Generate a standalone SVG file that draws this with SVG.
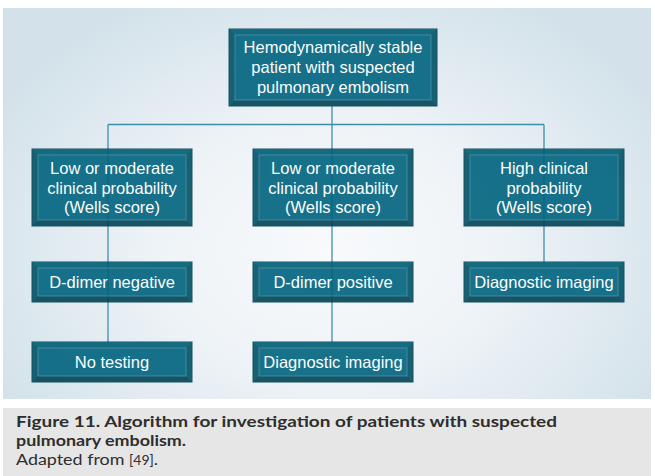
<svg xmlns="http://www.w3.org/2000/svg" width="655" height="476" viewBox="0 0 655 476">
<defs>
<radialGradient id="bg" cx="330" cy="250" r="380" gradientUnits="userSpaceOnUse" gradientTransform="translate(330 250) scale(1 0.75) translate(-330 -250)">
<stop offset="0" stop-color="#f8fafc"/>
<stop offset="0.45" stop-color="#eef3f7"/>
<stop offset="1" stop-color="#d3e2ea"/>
</radialGradient>
<style>
.node{opacity:0.9}
.o{fill:#005266;stroke:#00404e;stroke-width:1}
.bt{fill:#005d74}
.bb{fill:#004456}
.i{fill:#00637e;stroke:#3d8aa1;stroke-width:0.8}
.t{font-family:"Liberation Sans",Arial,sans-serif;font-size:16.5px;fill:#ffffff;text-anchor:middle}
.c{fill:none;stroke:#3f8ea8;stroke-width:1.3}
.cap{font-family:Lato,"Open Sans",sans-serif;fill:#2e2e2e}
</style>
</defs>
<rect x="0" y="0" width="655" height="476" fill="#ffffff"/>
<rect x="3" y="8" width="648" height="391" fill="url(#bg)"/>
<rect x="3" y="408" width="648" height="68" fill="#e6e6e6"/>

<g id="connectors">
<line class="c" x1="332" y1="106" x2="332" y2="342"/>
<line class="c" x1="108" y1="124.5" x2="544" y2="124.5"/>
<line class="c" x1="108" y1="124.5" x2="108" y2="342"/>
<line class="c" x1="544" y1="124.5" x2="544" y2="262"/>
</g>

<g id="n-top" class="node">
<rect class="o" x="229" y="29" width="208" height="77"/>
<polygon class="bt" points="229,29 437,29 431,35 235,35"/>
<polygon class="bb" points="229,106 437,106 431,100 235,100"/>
<rect class="i" x="235" y="35" width="196" height="65"/>
<text class="t" x="333" y="53">Hemodynamically stable</text>
<text class="t" x="333" y="73">patient with suspected</text>
<text class="t" x="333" y="92.5">pulmonary embolism</text>
</g>

<g id="n-low1" class="node">
<rect class="o" x="32" y="149" width="160" height="77"/>
<polygon class="bt" points="32,149 192,149 186,155 38,155"/>
<polygon class="bb" points="32,226 192,226 186,220 38,220"/>
<rect class="i" x="38" y="155" width="148" height="65"/>
<text class="t" x="112" y="173.5">Low or moderate</text>
<text class="t" x="112" y="193.5">clinical probability</text>
<text class="t" x="112" y="213">(Wells score)</text>
</g>

<g id="n-low2" class="node">
<rect class="o" x="253" y="149" width="160" height="77"/>
<polygon class="bt" points="253,149 413,149 407,155 259,155"/>
<polygon class="bb" points="253,226 413,226 407,220 259,220"/>
<rect class="i" x="259" y="155" width="148" height="65"/>
<text class="t" x="333" y="173.5">Low or moderate</text>
<text class="t" x="333" y="193.5">clinical probability</text>
<text class="t" x="333" y="213">(Wells score)</text>
</g>

<g id="n-high" class="node">
<rect class="o" x="464" y="149" width="160" height="77"/>
<polygon class="bt" points="464,149 624,149 618,155 470,155"/>
<polygon class="bb" points="464,226 624,226 618,220 470,220"/>
<rect class="i" x="470" y="155" width="148" height="65"/>
<text class="t" x="544" y="173.5">High clinical</text>
<text class="t" x="544" y="193.5">probability</text>
<text class="t" x="544" y="213">(Wells score)</text>
</g>

<g id="n-dneg" class="node">
<rect class="o" x="32" y="262" width="160" height="40"/>
<polygon class="bt" points="32,262 192,262 186,268 38,268"/>
<polygon class="bb" points="32,302 192,302 186,296 38,296"/>
<rect class="i" x="38" y="268" width="148" height="28"/>
<text class="t" x="112" y="287.5">D-dimer negative</text>
</g>

<g id="n-dpos" class="node">
<rect class="o" x="253" y="262" width="160" height="40"/>
<polygon class="bt" points="253,262 413,262 407,268 259,268"/>
<polygon class="bb" points="253,302 413,302 407,296 259,296"/>
<rect class="i" x="259" y="268" width="148" height="28"/>
<text class="t" x="333" y="287.5">D-dimer positive</text>
</g>

<g id="n-img1" class="node">
<rect class="o" x="464" y="262" width="160" height="40"/>
<polygon class="bt" points="464,262 624,262 618,268 470,268"/>
<polygon class="bb" points="464,302 624,302 618,296 470,296"/>
<rect class="i" x="470" y="268" width="148" height="28"/>
<text class="t" x="544" y="287.5">Diagnostic imaging</text>
</g>

<g id="n-notest" class="node">
<rect class="o" x="32" y="342" width="160" height="40"/>
<polygon class="bt" points="32,342 192,342 186,348 38,348"/>
<polygon class="bb" points="32,382 192,382 186,376 38,376"/>
<rect class="i" x="38" y="348" width="148" height="28"/>
<text class="t" x="112" y="368">No testing</text>
</g>

<g id="n-img2" class="node">
<rect class="o" x="253" y="342" width="160" height="40"/>
<polygon class="bt" points="253,342 413,342 407,348 259,348"/>
<polygon class="bb" points="253,382 413,382 407,376 259,376"/>
<rect class="i" x="259" y="348" width="148" height="28"/>
<text class="t" x="333" y="368">Diagnostic imaging</text>
</g>

<g id="caption" class="cap">
<text x="16" y="426.5" font-size="15.5" font-weight="bold" textLength="541" lengthAdjust="spacingAndGlyphs">Figure 11. Algorithm for investigation of patients with suspected</text>
<text x="16" y="445.5" font-size="15.5" font-weight="bold" textLength="170" lengthAdjust="spacingAndGlyphs">pulmonary embolism.</text>
<text x="16" y="465" font-size="16" textLength="142" lengthAdjust="spacingAndGlyphs">Adapted from <tspan font-size="12.5">[49]</tspan>.</text>
</g>
</svg>
